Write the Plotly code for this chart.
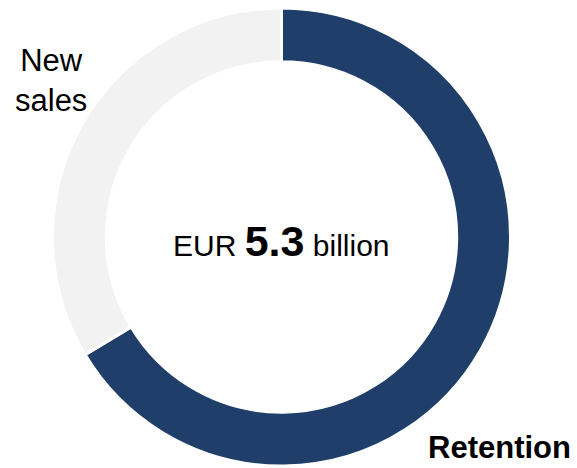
import plotly.graph_objects as go

# Revenue split (EUR billion)
segments = ["Retention", "New sales"]
revenue_bn = [3.52, 1.78]
colors = ["#1F3F6A", "#F2F2F2"]

W, H = 577, 468
total = sum(revenue_bn)

fig = go.Figure(
    go.Pie(
        labels=segments,
        values=revenue_bn,
        hole=0.765,
        sort=False,
        direction="clockwise",
        rotation=0,
        marker=dict(colors=colors, line=dict(color="white", width=3)),
        textinfo="none",
        hoverinfo="label+value",
        showlegend=False,
        domain=dict(x=[52.5 / W, 510.5 / W], y=[2 / H, 460 / H]),
    )
)

font = "Liberation Sans, Arial, sans-serif"

fig.add_annotation(
    x=281 / W, y=1 - 241 / H, xref="paper", yref="paper",
    text=f"EUR <b><span style='font-size:43px'>{total:.1f}</span></b> billion",
    showarrow=False, xanchor="center", yanchor="middle",
    font=dict(family=font, size=30, color="#000000"),
)
fig.add_annotation(
    x=51 / W, y=1 - 80 / H, xref="paper", yref="paper",
    text="New<br>sales", showarrow=False, xanchor="center", yanchor="middle",
    align="center",
    font=dict(family=font, size=31, color="#000000"),
)
fig.add_annotation(
    x=499 / W, y=1 - 447 / H, xref="paper", yref="paper",
    text="<b>Retention</b>", showarrow=False, xanchor="center", yanchor="middle",
    font=dict(family=font, size=31, color="#000000"),
)

fig.update_layout(
    width=W, height=H,
    margin=dict(l=0, r=0, t=0, b=0),
    paper_bgcolor="white", plot_bgcolor="white",
)

fig.write_html("out.html")
